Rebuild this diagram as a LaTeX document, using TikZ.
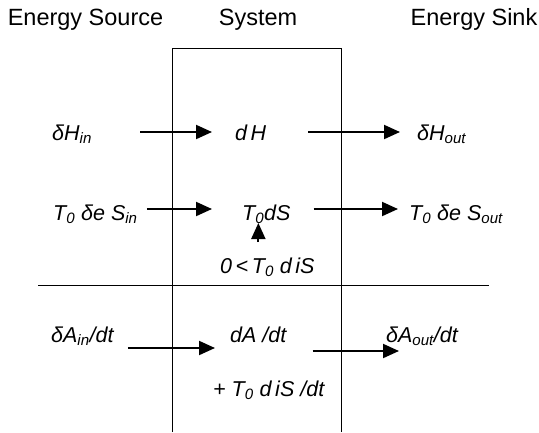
\documentclass[tikz,border=0pt]{standalone}
\usepackage{fontspec}
\setmainfont{Liberation Sans}
\usepackage{tikz}
\usetikzlibrary{arrows.meta,positioning,calc}

\begin{document}
\begin{tikzpicture}[x=1pt,y=-1pt,
    lbl/.style={anchor=base west,inner sep=0pt,font=\fontsize{21.5}{25}\selectfont\itshape},
    head/.style={anchor=base,inner sep=0pt,font=\fontsize{23.5}{28}\selectfont},
    flow/.style={line width=2pt,-{Triangle[length=16pt,width=14pt]}}]
  \useasboundingbox (0,0) rectangle (539,432);
  % Headings
  \node[head] (src)  at (85.5,25) {Energy Source};
  \node[head] (sys)  at (258,25)  {System};
  \node[head] (sink) at (474,25)  {Energy Sink};
  % Box and divider
  \draw[line width=0.9pt] (172,432) -- (172,48) -- (341,48) -- (341,432);
  \draw[line width=0.9pt] (38,285) -- (489,285);
  % Enthalpy
  \node[lbl] (hin)  at (52,140)  {δH\textsubscript{in}};
  \node[lbl] (dh)   at (235,140) {d\,H};
  \node[lbl] (hout) at (417,140) {δH\textsubscript{out}};
  \draw[flow,shorten <=48pt,shorten >=23pt] ([yshift=8pt]hin.base east) -- ([yshift=8pt]dh.base west);
  \draw[flow,shorten <=42pt,shorten >=17pt] ([yshift=8pt]dh.base east) -- ([yshift=8pt]hout.base west);
  % Entropy
  \node[lbl] (sin)  at (53,220)  {T\textsubscript{0} δe S\textsubscript{in}};
  \node[lbl] (ds)   at (242,220) {T\textsubscript{0}dS};
  \node[lbl] (sout) at (409,220) {T\textsubscript{0} δe S\textsubscript{out}};
  \node[lbl] (dis)  at (220,273) {0\,<\,T\textsubscript{0} d\,iS};
  \draw[flow,shorten <=9pt,shorten >=30pt] ([yshift=11pt]sin.base east) -- ([yshift=11pt]ds.base west);
  \draw[flow,shorten <=23pt,shorten >=11pt] ([yshift=11pt]ds.base east) -- ([yshift=11pt]sout.base west);
  \draw[flow,shorten <=15pt,shorten >=3pt] ([xshift=-9pt]dis.north) -- ([xshift=-9pt]dis.north |- ds.base);
  % Exergy
  \node[lbl] (ain)  at (51,342)  {δA\textsubscript{in}/dt};
  \node[lbl] (da)   at (230,342) {dA /dt};
  \node[lbl] (aout) at (386,342) {δA\textsubscript{out}/dt};
  \node[lbl] (ais)  at (213,396) {+ T\textsubscript{0} d\,iS /dt};
  \draw[flow,shorten <=14pt,shorten >=15pt] ([yshift=-6pt]ain.base east) -- ([yshift=-6pt]da.base west);
  \draw[flow,shorten <=26pt,shorten >=-13pt] ([yshift=-9pt]da.base east) -- ([yshift=-9pt]aout.base west);
\end{tikzpicture}
\end{document}
